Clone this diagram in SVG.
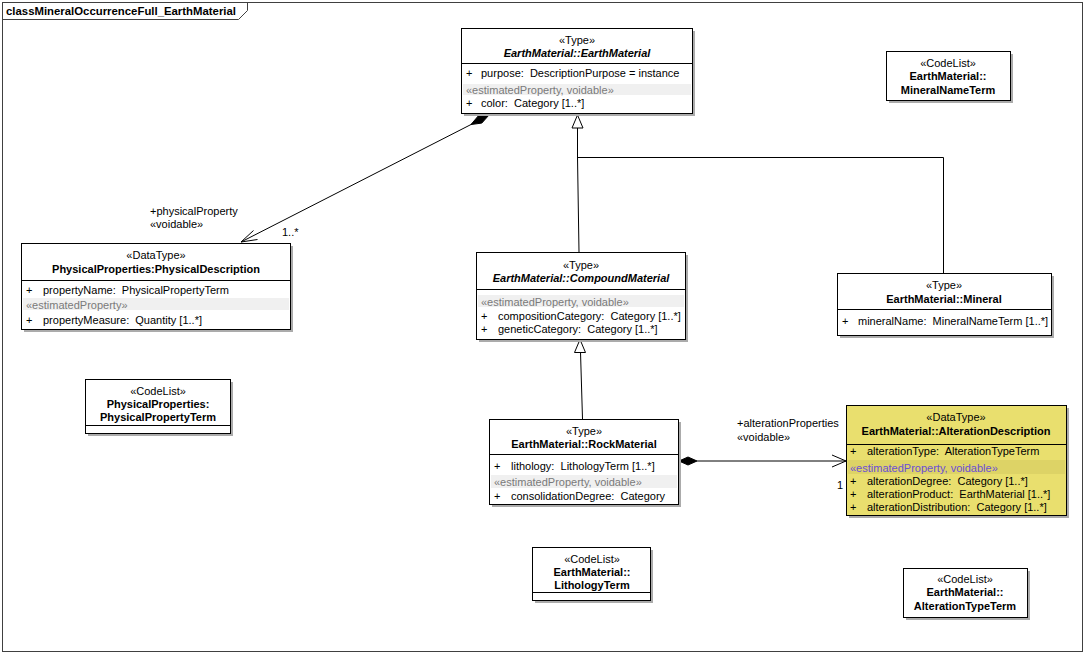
<svg xmlns="http://www.w3.org/2000/svg" width="1087" height="657" viewBox="0 0 1087 657">
<style>
text{font-family:"Liberation Sans",Arial,sans-serif;font-size:11px;fill:#000;white-space:pre}
.c{text-anchor:middle}
.b{font-weight:bold}
.i{font-style:italic}
.g{fill:#7a7a7a}
.p{fill:#6a4fd6}
.box{fill:#fff;stroke:#000;stroke-width:1}
.yb{fill:#e9df6e;stroke:#000;stroke-width:1}
.sh{fill:#ababab}
.band{fill:#f0f0f0}
.yband{fill:#ddd366}
.ln{stroke:#000;stroke-width:1;fill:none}
.ln2{stroke:#404040;stroke-width:1;fill:none}
</style>
<rect x="0" y="0" width="1087" height="657" fill="#fff"/>
<g id="frame">
<rect x="2.5" y="2.5" width="1080" height="649" fill="none" stroke="#404040"/>
<path d="M2.5,19.5 H238.5 L247.5,10.5 V2.5" class="ln2"/>
<text x="6" y="14.5" class="b" textLength="230" lengthAdjust="spacingAndGlyphs">classMineralOccurrenceFull_EarthMaterial</text>
</g>
<g id="connectors">
<line x1="472" y1="124" x2="241" y2="242" class="ln"/>
<polygon points="489,115 481.8,123.1 471,124.5 478.2,116" fill="#000" stroke="#000"/>
<polyline points="253.5,230.5 241,242 257.5,239.5" class="ln"/>
<text x="150" y="215">+physicalProperty</text>
<text x="150" y="228">«voidable»</text>
<text x="282" y="236">1..*</text>
<polyline points="579,252 577.5,157 577.5,128" class="ln"/>
<polyline points="577.5,157.5 943.5,157.5 943.5,273" class="ln"/>
<polygon points="577.5,115 572,128 583,128" fill="#fff" stroke="#000"/>
<line x1="582.5" y1="419" x2="580.5" y2="352" class="ln"/>
<polygon points="580,339.5 574.5,352.5 585.5,352.5" fill="#fff" stroke="#000"/>
<line x1="697" y1="461" x2="846" y2="461" class="ln"/>
<polygon points="679,461 688,457 697,461 688,465" fill="#000" stroke="#000"/>
<polyline points="832,455 846,461 832,467" class="ln"/>
<text x="737" y="427">+alterationProperties</text>
<text x="737" y="441">«voidable»</text>
<text x="837" y="489">1</text>
</g>
<g id="EarthMaterial">
<rect x="464" y="31" width="231" height="85" class="sh"/>
<rect x="461.5" y="28.5" width="231" height="85" class="box"/>
<text x="577" y="44" class="c">«Type»</text>
<text x="577" y="57" class="c b i">EarthMaterial::EarthMaterial</text>
<line x1="461.5" y1="63.5" x2="692.5" y2="63.5" class="ln"/>
<text x="466" y="77">+</text><text x="481" y="77">purpose:  DescriptionPurpose = instance</text>
<rect x="463" y="84" width="228" height="11" class="band"/>
<text x="466" y="94" class="g">«estimatedProperty, voidable»</text>
<text x="466" y="107">+</text><text x="481" y="107">color:  Category [1..*]</text>
</g>
<g id="PhysicalDescription">
<rect x="24" y="246" width="269" height="86" class="sh"/>
<rect x="21.5" y="243.5" width="269" height="86" class="box"/>
<text x="156" y="259" class="c">«DataType»</text>
<text x="156" y="273" class="c b">PhysicalProperties:PhysicalDescription</text>
<line x1="21.5" y1="280.5" x2="290.5" y2="280.5" class="ln"/>
<text x="26" y="294">+</text><text x="43" y="294">propertyName:  PhysicalPropertyTerm</text>
<rect x="23" y="298" width="266" height="12" class="band"/>
<text x="26" y="309" class="g">«estimatedProperty»</text>
<text x="26" y="324">+</text><text x="43" y="324">propertyMeasure:  Quantity [1..*]</text>
</g>
<g id="CompoundMaterial">
<rect x="479" y="255" width="209" height="87" class="sh"/>
<rect x="476.5" y="252.5" width="209" height="87" class="box"/>
<text x="581" y="269" class="c">«Type»</text>
<text x="581" y="282" class="c b i">EarthMaterial::CompoundMaterial</text>
<line x1="476.5" y1="289.5" x2="685.5" y2="289.5" class="ln"/>
<rect x="478" y="295" width="206" height="12" class="band"/>
<text x="481" y="306" class="g">«estimatedProperty, voidable»</text>
<text x="481" y="320">+</text><text x="498" y="320">compositionCategory:  Category [1..*]</text>
<text x="481" y="333">+</text><text x="498" y="333">geneticCategory:  Category [1..*]</text>
</g>
<g id="Mineral">
<rect x="840" y="276" width="214" height="62" class="sh"/>
<rect x="837.5" y="273.5" width="214" height="62" class="box"/>
<text x="944" y="289" class="c">«Type»</text>
<text x="944" y="303" class="c b">EarthMaterial::Mineral</text>
<line x1="837.5" y1="309.5" x2="1051.5" y2="309.5" class="ln"/>
<text x="842" y="325">+</text><text x="858" y="325">mineralName:  MineralNameTerm [1..*]</text>
</g>
<g id="RockMaterial">
<rect x="492" y="422" width="189" height="85" class="sh"/>
<rect x="489.5" y="419.5" width="189" height="85" class="box"/>
<text x="584" y="435" class="c">«Type»</text>
<text x="584" y="448" class="c b">EarthMaterial::RockMaterial</text>
<line x1="489.5" y1="454.5" x2="678.5" y2="454.5" class="ln"/>
<text x="494" y="470">+</text><text x="511" y="470">lithology:  LithologyTerm [1..*]</text>
<rect x="491" y="475" width="186" height="13" class="band"/>
<text x="494" y="486" class="g">«estimatedProperty, voidable»</text>
<text x="494" y="500">+</text><text x="511" y="500">consolidationDegree:  Category</text>
</g>
<g id="AlterationDescription">
<rect x="849" y="408" width="220" height="110" class="sh"/>
<rect x="846.5" y="405.5" width="220" height="110" class="yb"/>
<text x="956" y="421" class="c">«DataType»</text>
<text x="956" y="435" class="c b">EarthMaterial::AlterationDescription</text>
<line x1="846.5" y1="444.5" x2="1066.5" y2="444.5" class="ln"/>
<text x="850" y="455">+</text><text x="867" y="455">alterationType:  AlterationTypeTerm</text>
<rect x="848" y="460" width="217" height="14" class="yband"/>
<text x="850" y="472" class="p">«estimatedProperty, voidable»</text>
<text x="850" y="485">+</text><text x="867" y="485">alterationDegree:  Category [1..*]</text>
<text x="850" y="498">+</text><text x="867" y="498">alterationProduct:  EarthMaterial [1..*]</text>
<text x="850" y="511">+</text><text x="867" y="511">alterationDistribution:  Category [1..*]</text>
</g>
<g id="PhysicalPropertyTerm">
<rect x="88" y="382" width="145" height="54" class="sh"/>
<rect x="85.5" y="379.5" width="145" height="54" class="box"/>
<text x="158" y="395" class="c">«CodeList»</text>
<text x="158" y="408" class="c b">PhysicalProperties:</text>
<text x="158" y="421" class="c b">PhysicalPropertyTerm</text>
<line x1="85.5" y1="425.5" x2="230.5" y2="425.5" class="ln"/>
</g>
<g id="LithologyTerm">
<rect x="535" y="550" width="118" height="53" class="sh"/>
<rect x="532.5" y="547.5" width="118" height="53" class="box"/>
<text x="592" y="563" class="c">«CodeList»</text>
<text x="592" y="576" class="c b">EarthMaterial::</text>
<text x="592" y="589" class="c b">LithologyTerm</text>
<line x1="532.5" y1="592.5" x2="650.5" y2="592.5" class="ln"/>
</g>
<g id="AlterationTypeTerm">
<rect x="906" y="571" width="124" height="49" class="sh"/>
<rect x="903.5" y="568.5" width="124" height="49" class="box"/>
<text x="965" y="583" class="c">«CodeList»</text>
<text x="965" y="596" class="c b">EarthMaterial::</text>
<text x="965" y="610" class="c b">AlterationTypeTerm</text>
</g>
<g id="MineralNameTerm">
<rect x="889" y="54" width="124" height="49" class="sh"/>
<rect x="886.5" y="51.5" width="124" height="49" class="box"/>
<text x="948" y="67" class="c">«CodeList»</text>
<text x="948" y="80" class="c b">EarthMaterial::</text>
<text x="948" y="94" class="c b">MineralNameTerm</text>
</g>
</svg>
